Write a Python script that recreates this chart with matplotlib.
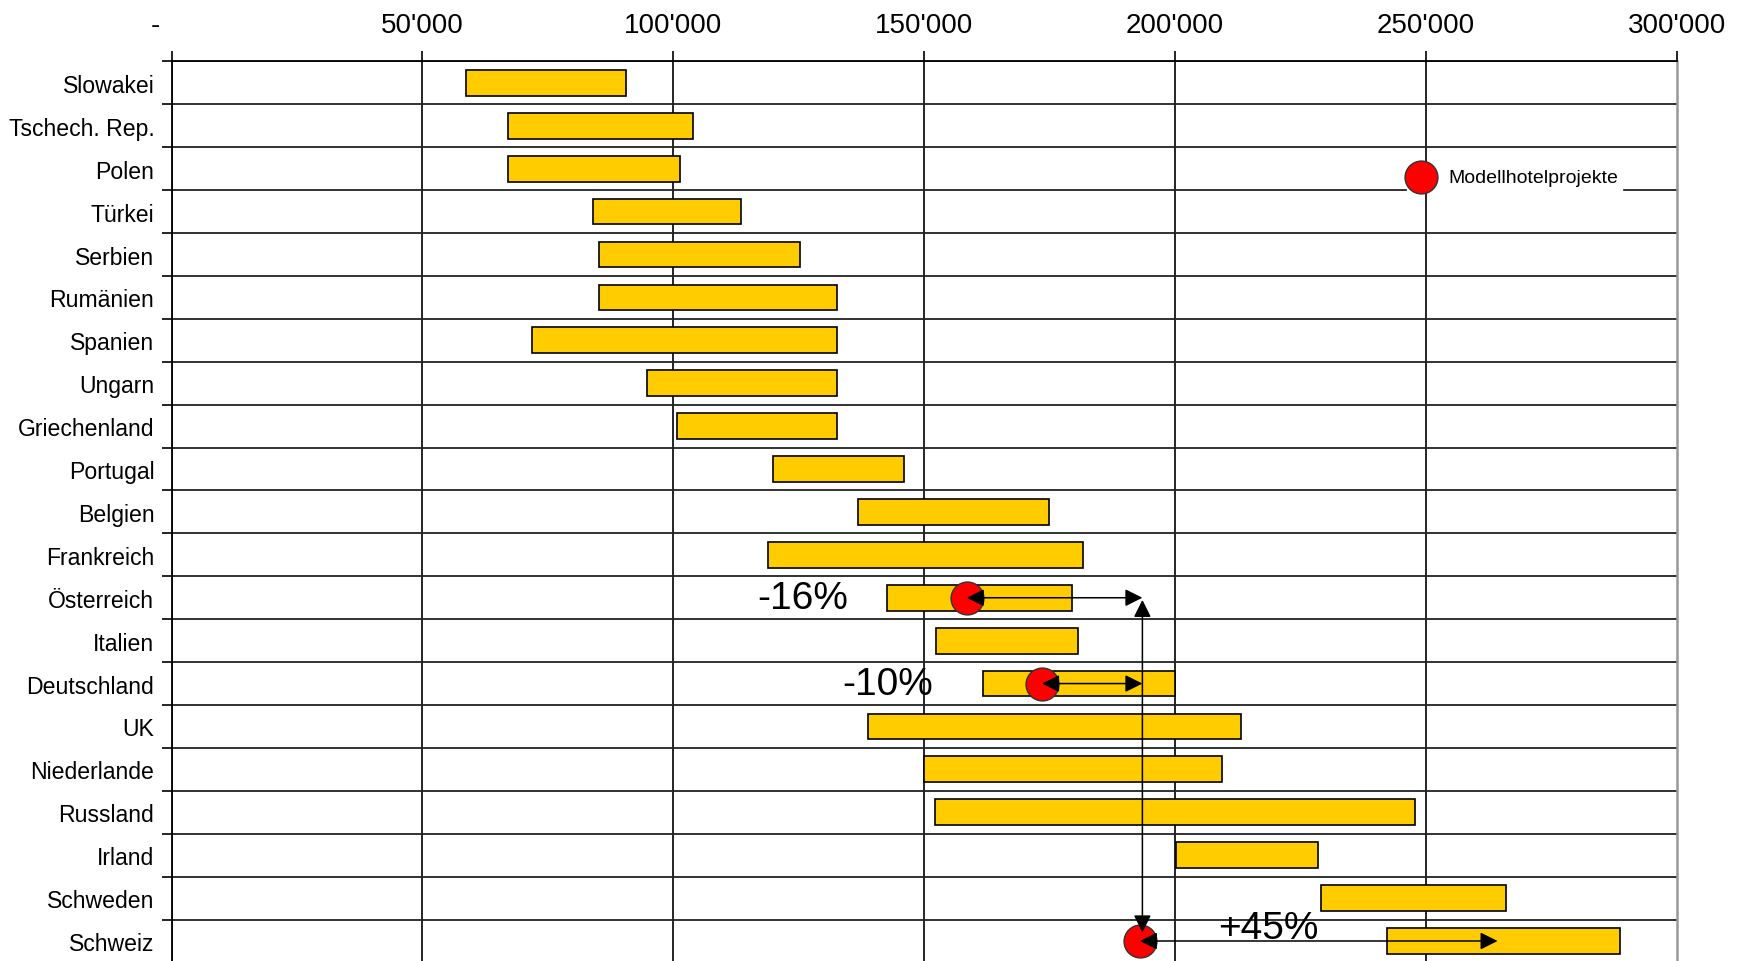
import numpy as np
import matplotlib
matplotlib.use("Agg")
import matplotlib.pyplot as plt
import matplotlib.transforms as mtransforms
from matplotlib.ticker import FuncFormatter

plt.rcParams['font.family'] = ['Liberation Sans', 'DejaVu Sans']

# Baukosten pro Zimmer (von / bis), oben nach unten
laender = ["Slowakei", "Tschech. Rep.", "Polen", "Türkei", "Serbien", "Rumänien",
           "Spanien", "Ungarn", "Griechenland", "Portugal", "Belgien", "Frankreich",
           "Österreich", "Italien", "Deutschland", "UK", "Niederlande", "Russland",
           "Irland", "Schweden", "Schweiz"]
von = [58600, 67100, 67100, 84000, 85100, 85100, 71900, 94700, 100700, 119900,
       136800, 118800, 142600, 152300, 161800, 138900, 150000, 152200, 200100,
       229100, 242300]
bis = [90600, 103900, 101300, 113500, 125300, 132600, 132600, 132600, 132600,
       146000, 174800, 181700, 179500, 180600, 200000, 213200, 209400, 247900,
       228600, 265900, 288800]

# Modellhotelprojekte und Vergleichswerte
projekt_land = ["Österreich", "Deutschland", "Schweiz"]
projekt_wert = [158500, 173500, 193000]
vergleich_wert = [193500, 193500, 264300]
abweichung = ["-16%", "-10%", "+45%"]


def chf(v, pos):
    if v == 0:
        return "-"
    return f"{int(v):,}".replace(",", "'")


fig = plt.figure(figsize=(17.48, 9.62), dpi=100)
ax = fig.add_axes([0.0982, -0.0015, 0.861, 0.9366])

y = np.arange(len(laender))
ax.barh(y, np.array(bis) - np.array(von), left=von, height=0.6,
        color='#FFCC00', edgecolor='black', linewidth=1.2, zorder=3)

ax.set_xlim(0, 300000)
ax.set_ylim(len(laender) - 0.5, -0.5)

ax.set_xticks(np.arange(0, 300001, 50000))
ax.xaxis.set_major_formatter(FuncFormatter(chf))
ax.tick_params(axis='x', which='major', top=True, bottom=False, labeltop=True,
               labelbottom=False, direction='out', length=7, width=1.2, pad=10,
               labelsize=20)

ax.set_yticks(y)
ax.set_yticklabels(laender, fontsize=16.6)
ax.set_yticks(np.arange(-0.5, len(laender) + 0.5, 1), minor=True)
ax.tick_params(axis='y', which='major', length=0, pad=12.5)
ax.tick_params(axis='y', which='minor', length=7, width=1.2, direction='out')

ax.grid(True, axis='y', which='minor', color='#222222', lw=1.3)
ax.grid(True, axis='x', which='major', color='black', lw=1.2)
ax.xaxis.get_gridlines()[-1].set_visible(False)

for s in ['left', 'top']:
    ax.spines[s].set_color('black')
    ax.spines[s].set_linewidth(1.3)
ax.spines['right'].set_color('#999999')
ax.spines['right'].set_linewidth(1.8)
ax.spines['bottom'].set_visible(False)

# Projektpunkte
py = [laender.index(l) for l in projekt_land]
ax.scatter(projekt_wert, py, s=560, color='red', edgecolor='#333333',
           linewidth=1, zorder=5, label='Modellhotelprojekte')

pfeil = dict(arrowstyle='<|-|>,head_length=0.7,head_width=0.35', mutation_scale=15,
             color='black', lw=1.1, shrinkA=0, shrinkB=0)
for w, v, yy in zip(projekt_wert, vergleich_wert, py):
    ax.annotate('', xy=(v, yy), xytext=(w, yy), arrowprops=pfeil, zorder=6)
# Schweiz als Bezug nach oben bis Österreich
ax.annotate('', xy=(vergleich_wert[0], py[0] + 0.05), xytext=(vergleich_wert[0], py[2] - 0.2),
            arrowprops=pfeil, zorder=6)

text_x = [125700, 142800, 218600]
text_dy = [0, 0, -0.3]
for t, tx, yy, dy in zip(abweichung, text_x, py, text_dy):
    ax.text(tx, yy + dy, t, fontsize=28, ha='center', va='center', zorder=7)

leg = ax.legend(loc='center left', bbox_to_anchor=(246300, 2.2),
                bbox_transform=ax.transData, frameon=True, fancybox=False,
                edgecolor='white', facecolor='white', framealpha=1, fontsize=14,
                borderpad=0.2, handletextpad=0.9, handlelength=1.0,
                borderaxespad=0, scatterpoints=1)
leg.set_zorder(8)

# Null-Label etwas nach links
t0 = ax.xaxis.get_major_ticks()[0]
t0.label2.set_transform(t0.label2.get_transform() +
                        mtransforms.ScaledTranslation(-0.16, 0, fig.dpi_scale_trans))

fig.savefig("out.png", dpi=100)
